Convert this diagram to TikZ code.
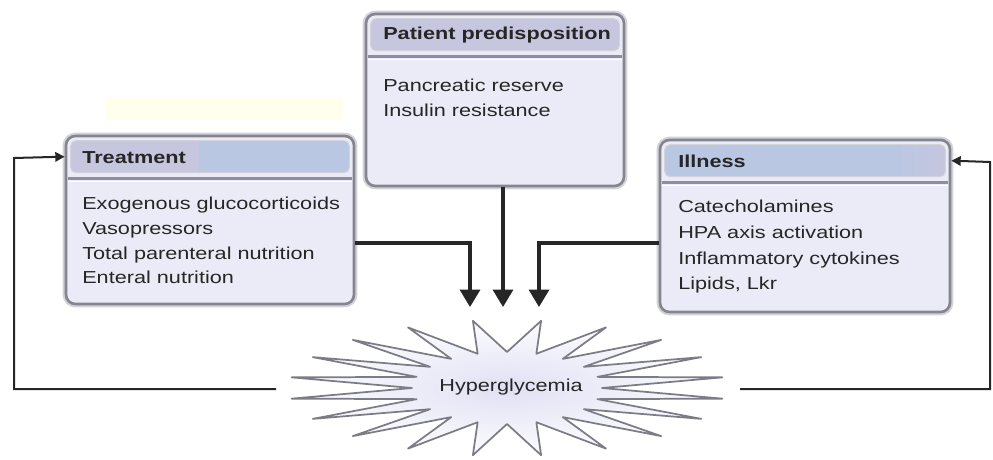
\documentclass[tikz,border=0pt]{standalone}
\usepackage{fontspec}
\setmainfont[FakeStretch=1.25]{Liberation Sans}
\usetikzlibrary{arrows.meta}

\definecolor{boxfill}{HTML}{EBEBF7}
\definecolor{boxedge}{HTML}{858590}
\definecolor{boxhalo}{HTML}{D2D2D8}
\definecolor{hdrlav}{HTML}{C6C6DE}
\definecolor{hdrblue}{HTML}{B9C7E3}
\definecolor{hdrline}{HTML}{8E8EA0}
\definecolor{starfill}{HTML}{E0E0F4}
\definecolor{staredge}{HTML}{7C7C86}
\definecolor{inkdark}{HTML}{262626}
\definecolor{faintyellow}{HTML}{FFFFEC}

\tikzset{
  panel/.style={draw=boxedge, line width=2pt, fill=boxfill, rounded corners=7pt,
    inner sep=0pt, preaction={draw=boxhalo, line width=5pt}},
  hdr/.style={draw=boxhalo, line width=0.8pt, rounded corners=4pt},
  sepline/.style={draw=hdrline, line width=2pt},
  sepsoft/.style={draw=white, line width=1.2pt},
  txt/.style={anchor=base west, inner sep=0pt, text=inkdark,
    font=\fontsize{13pt}{18.75pt}\selectfont},
  hdrtxt/.style={txt, font=\fontsize{13pt}{18.75pt}\selectfont\bfseries},
  feed/.style={draw=inkdark, line width=2.3pt,
    -{Triangle[width=15pt,length=13pt]}},
  loopback/.style={draw=inkdark, line width=1.5pt,
    -{Triangle[width=7pt,length=7pt]}},
  burst/.style={draw=staredge, line width=1.3pt, line join=round,
    inner color=starfill, outer color=white!92!starfill}
}

\begin{document}
\begin{tikzpicture}[x=0.75pt,y=-0.75pt]
  \useasboundingbox (0,0) rectangle (993,460);
  \fill[white] (0,0) rectangle (993,460);
  \fill[faintyellow] (105,98) rectangle (343,120);

  % ---- the three panels ----
  \node[panel, minimum width=193.5pt, minimum height=129pt] (pat) at (495,100) {};
  \node[panel, minimum width=216pt, minimum height=126pt] (treat) at (210,220) {};
  \node[panel, minimum width=217.5pt, minimum height=129pt] (ill) at (805,226) {};

  % Patient predisposition header
  \draw[hdr, fill=hdrlav] ([shift={(6,6)}]pat.north west) rectangle ([shift={(-6,38)}]pat.north east);
  \draw[sepline] ([shift={(3,44)}]pat.north west) -- ([shift={(-3,44)}]pat.north east);
  \draw[sepsoft] ([shift={(3,47)}]pat.north west) -- ([shift={(-3,47)}]pat.north east);

  % Treatment header: lavender on the left, blue on the right
  \begin{scope}
    \clip[rounded corners=4pt] ([shift={(6,6)}]treat.north west) rectangle ([shift={(-6,38)}]treat.north east);
    \fill[hdrblue] ([shift={(6,6)}]treat.north west) rectangle ([shift={(-6,38)}]treat.north east);
    \fill[hdrlav] ([shift={(6,6)}]treat.north west) rectangle ([shift={(134,38)}]treat.north west);
  \end{scope}
  \draw[hdr] ([shift={(6,6)}]treat.north west) rectangle ([shift={(-6,38)}]treat.north east);
  \draw[sepline] ([shift={(3,44)}]treat.north west) -- ([shift={(-3,44)}]treat.north east);
  \draw[sepsoft] ([shift={(3,47)}]treat.north west) -- ([shift={(-3,47)}]treat.north east);

  % Illness header: blue, fading to lavender at the right end
  \begin{scope}
    \clip[rounded corners=4pt] ([shift={(6,6)}]ill.north west) rectangle ([shift={(-6,38)}]ill.north east);
    \fill[hdrblue] ([shift={(6,6)}]ill.north west) rectangle ([shift={(-6,38)}]ill.north east);
    \shade[left color=hdrblue, right color=hdrlav] ([shift={(-60,6)}]ill.north east) rectangle ([shift={(-6,38)}]ill.north east);
  \end{scope}
  \draw[hdr] ([shift={(6,6)}]ill.north west) rectangle ([shift={(-6,38)}]ill.north east);
  \draw[sepline] ([shift={(3,44)}]ill.north west) -- ([shift={(-3,44)}]ill.north east);
  \draw[sepsoft] ([shift={(3,47)}]ill.north west) -- ([shift={(-3,47)}]ill.north east);

  % ---- panel texts ----
  \node[hdrtxt] (patH) at (383,40) {Patient predisposition};
  \node[txt] (pat1) at (383,92) {Pancreatic reserve};
  \node[txt] (pat2) at (383,117) {Insulin resistance};

  \node[hdrtxt] (treatH) at (82,163) {Treatment};
  \node[txt] (treat1) at (82,209) {Exogenous glucocorticoids};
  \node[txt] (treat2) at (82,234) {Vasopressors};
  \node[txt] (treat3) at (82,259) {Total parenteral nutrition};
  \node[txt] (treat4) at (82,283) {Enteral nutrition};

  \node[hdrtxt] (illH) at (678,167) {Illness};
  \node[txt] (ill1) at (678,212) {Catecholamines};
  \node[txt] (ill2) at (678,238) {HPA axis activation};
  \node[txt] (ill3) at (678,264) {Inflammatory cytokines};
  \node[txt] (ill4) at (678,289) {Lipids, Lkr};

  % ---- the central burst ----
  \shade[burst] plot[samples at={0,...,39}, variable=\k]
    ({507 + ((mod(\k,2)==1) ? 218 : 95)*cos(\k*9)},
     {388 + ((mod(\k,2)==1) ? 68 : 36)*sin(\k*9)}) -- cycle;
  \node[txt, anchor=center, text=inkdark] (hyper) at (511,387) {Hyperglycemia};

  % ---- connectors into the burst ----
  \draw[feed] ([shift={(0,23)}]treat.east) -| ([shift={(-41,-80)}]hyper.center);
  \draw[feed] ([shift={(8,0)}]pat.south) -- ([shift={(-8,-80)}]hyper.center);
  \draw[feed] ([shift={(0,17)}]ill.west) -| ([shift={(28,-80)}]hyper.center);

  % ---- feedback loops back to the side panels ----
  \coordinate (burstL) at (276,389);
  \coordinate (burstR) at (740,389);
  \draw[loopback] (burstL) -- (14,389) -- (14,158) -- ([shift={(0,22)}]treat.north west);
  \draw[loopback] (burstR) -- (990,389) -- (990,162) -- ([shift={(0,22)}]ill.north east);
\end{tikzpicture}
\end{document}
